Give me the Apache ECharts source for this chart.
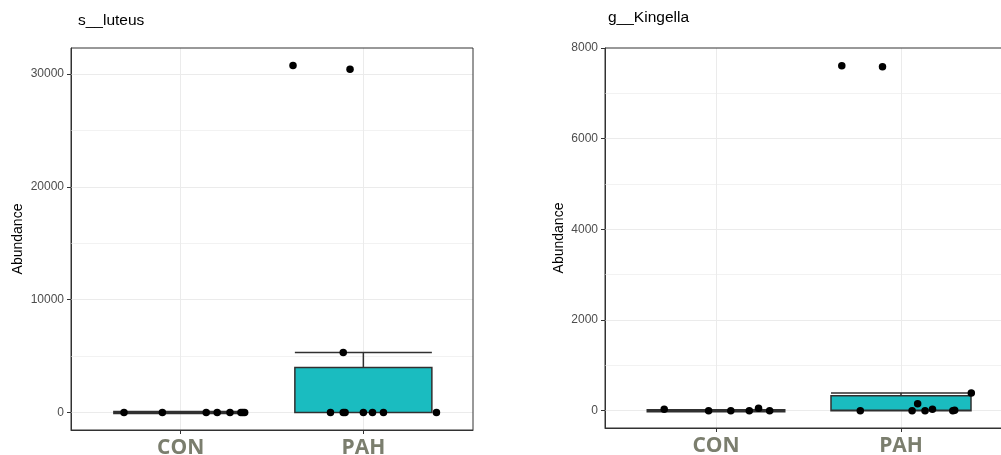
<!DOCTYPE html>
<html>
<head>
<meta charset="utf-8">
<script src="https://cdn.jsdelivr.net/npm/echarts@6/dist/echarts.min.js"></script>
<style>
  html, body { margin: 0; padding: 0; background: #fff; }
  #chart { width: 1001px; height: 455px; }
</style>
</head>
<body>
<div id="chart"></div>
<script>
// groups
const categories = ["CON", "PAH"];

// s__luteus panel
const luteusTicks = [0, 10000, 20000, 30000];
const luteusMinor = [5000, 15000, 25000];
const luteusRange = [-1540, 32300];
// box stats: [group, min, Q1, median, Q3, max]
const luteusConBox = [1, 0, 0, 0, 0, 0];
const luteusPahBox = [2, 0, 0, 0, 4000, 5330];
const luteusConJitter = [-0.31, -0.10, 0.14, 0.20, 0.27, 0.33, 0.34, 0.35];
const luteusConValues = [0, 0, 0, 0, 0, 0, 0, 0];
const luteusPahJitter = [-0.18, -0.11, -0.10, 0.00, 0.05, 0.11, 0.40, -0.11, -0.385, -0.073];
const luteusPahValues = [0, 0, 0, 0, 0, 0, 0, 5330, 30760, 30410];

// g__Kingella panel
const kingellaTicks = [0, 2000, 4000, 6000, 8000];
const kingellaMinor = [1000, 3000, 5000, 7000];
const kingellaRange = [-381, 8001];
const kingellaConBox = [1, 0, 0, 0, 0, 0];
const kingellaPahBox = [2, 0, 0, 10, 330, 390];
const kingellaConJitter = [-0.28, -0.04, 0.08, 0.18, 0.23, 0.29];
const kingellaConValues = [30, 0, 0, 0, 53, 0];
const kingellaPahJitter = [-0.22, 0.06, 0.09, 0.13, 0.17, 0.28, 0.29, 0.38, -0.32, -0.10];
const kingellaPahValues = [0, 0, 155, 0, 35, 0, 10, 390, 7607, 7585];

const chart = echarts.init(document.getElementById("chart"));

const txtFont = "'Liberation Sans', Arial, sans-serif";

function points(jitter, values, group) {
  return values.map((v, i) => [group + jitter[i], v]);
}

// hidden copies only hold the CON box so it is laid out on its own
function xAxisFor(gridIndex, hidden) {
  return {
    type: "value",
    gridIndex: gridIndex,
    show: !hidden,
    min: 0.4,
    max: 2.6,
    axisLine: { show: true, onZero: false, lineStyle: { color: "#333", width: 1 } },
    axisTick: { show: true, customValues: [1, 2], length: 4, lineStyle: { color: "#333" } },
    axisLabel: {
      customValues: [1, 2],
      formatter: v => categories[Math.round(v) - 1],
      color: "#7b7e6e",
      fontFamily: "'Open Sans', sans-serif",
      fontWeight: "bold",
      fontSize: 21,
      margin: 8
    },
    splitLine: { show: false },
    minorTick: { show: false }
  };
}

function yAxisFor(gridIndex, range, ticks, gap, splits) {
  return {
    type: "value",
    gridIndex: gridIndex,
    min: range[0],
    max: range[1],
    splitNumber: splits,
    name: "Abundance",
    nameLocation: "middle",
    nameGap: gap,
    nameTextStyle: { color: "#000", fontSize: 14, fontFamily: txtFont },
    axisLine: { show: true, lineStyle: { color: "#333", width: 1 } },
    axisTick: { show: true, inside: false, customValues: ticks, length: 4, lineStyle: { color: "#333" } },
    axisLabel: {
      customValues: ticks,
      formatter: v => String(v),
      color: "#4d4d4d",
      fontSize: 12,
      fontFamily: txtFont,
      margin: 7
    },
    splitLine: { show: false },
    minorTick: { show: false },
    minorSplitLine: { show: false }
  };
}

function lineSeries(idx, items, color) {
  return {
    type: "scatter",
    xAxisIndex: idx,
    yAxisIndex: idx,
    data: [],
    z: 1,
    silent: true,
    markLine: {
      z: 1,
      silent: true,
      symbol: ["none", "none"],
      label: { show: false },
      animation: false,
      lineStyle: { color: color, width: 1, type: "solid" },
      emphasis: { disabled: true },
      data: items
    }
  };
}

function within(range) {
  return v => v > range[0] && v < range[1] - 1;
}

function boxSeries(xIdx, yIdx, box, width, lineW) {
  return {
    type: "boxplot",
    xAxisIndex: xIdx,
    yAxisIndex: yIdx,
    layout: "horizontal",
    boxWidth: [width, width],
    encode: { x: 0, y: [1, 2, 3, 4, 5] },
    z: 10,
    itemStyle: { color: "#1abcc0", borderColor: "#303030", borderWidth: lineW },
    data: [box]
  };
}

function dotSeries(idx, data) {
  return {
    type: "scatter",
    xAxisIndex: idx,
    yAxisIndex: idx,
    symbolSize: 7.5,
    z: 12,
    itemStyle: { color: "#000", opacity: 1 },
    data: data
  };
}

const option = {
  animation: false,
  backgroundColor: "#fff",
  title: [
    { text: "s__luteus", left: 78, top: 13, padding: 0, textStyle: { fontSize: 15.5, fontWeight: "normal", color: "#000", fontFamily: txtFont } },
    { text: "g__Kingella", left: 608, top: 10, padding: 0, textStyle: { fontSize: 15.5, fontWeight: "normal", color: "#000", fontFamily: txtFont } }
  ],
  grid: [
    { left: 71, top: 48, width: 402, height: 382, outerBoundsMode: "none", containLabel: false, show: true, z: 5, borderColor: "#333", borderWidth: 1, backgroundColor: "transparent" },
    { left: 605, top: 48, width: 407, height: 380, outerBoundsMode: "none", containLabel: false, show: true, z: 5, borderColor: "#333", borderWidth: 1, backgroundColor: "transparent" }
  ],
  xAxis: [xAxisFor(0, false), xAxisFor(1, false), xAxisFor(0, true), xAxisFor(1, true)],
  yAxis: [
    yAxisFor(0, luteusRange, luteusTicks, 46, 3),
    yAxisFor(1, kingellaRange, kingellaTicks, 39, 4)
  ],
  series: [
    lineSeries(0, luteusMinor.filter(within(luteusRange)).map(v => ({ yAxis: v })), "#f2f2f2"),
    lineSeries(0, luteusTicks.filter(within(luteusRange)).map(v => ({ yAxis: v })).concat([{ xAxis: 1 }, { xAxis: 2 }]), "#ebebeb"),
    lineSeries(1, kingellaMinor.filter(within(kingellaRange)).map(v => ({ yAxis: v })), "#f2f2f2"),
    lineSeries(1, kingellaTicks.filter(within(kingellaRange)).map(v => ({ yAxis: v })).concat([{ xAxis: 1 }, { xAxis: 2 }]), "#ebebeb"),
    boxSeries(2, 0, luteusConBox, 135, 3.5),
    boxSeries(0, 0, luteusPahBox, 137, 1.5),
    boxSeries(3, 1, kingellaConBox, 139, 3.5),
    boxSeries(1, 1, kingellaPahBox, 140, 1.5),
    dotSeries(0, points(luteusConJitter, luteusConValues, 1).concat(points(luteusPahJitter, luteusPahValues, 2))),
    dotSeries(1, points(kingellaConJitter, kingellaConValues, 1).concat(points(kingellaPahJitter, kingellaPahValues, 2)))
  ]
};

chart.setOption(option);
window.addEventListener("resize", () => chart.resize());
</script>
</body>
</html>
